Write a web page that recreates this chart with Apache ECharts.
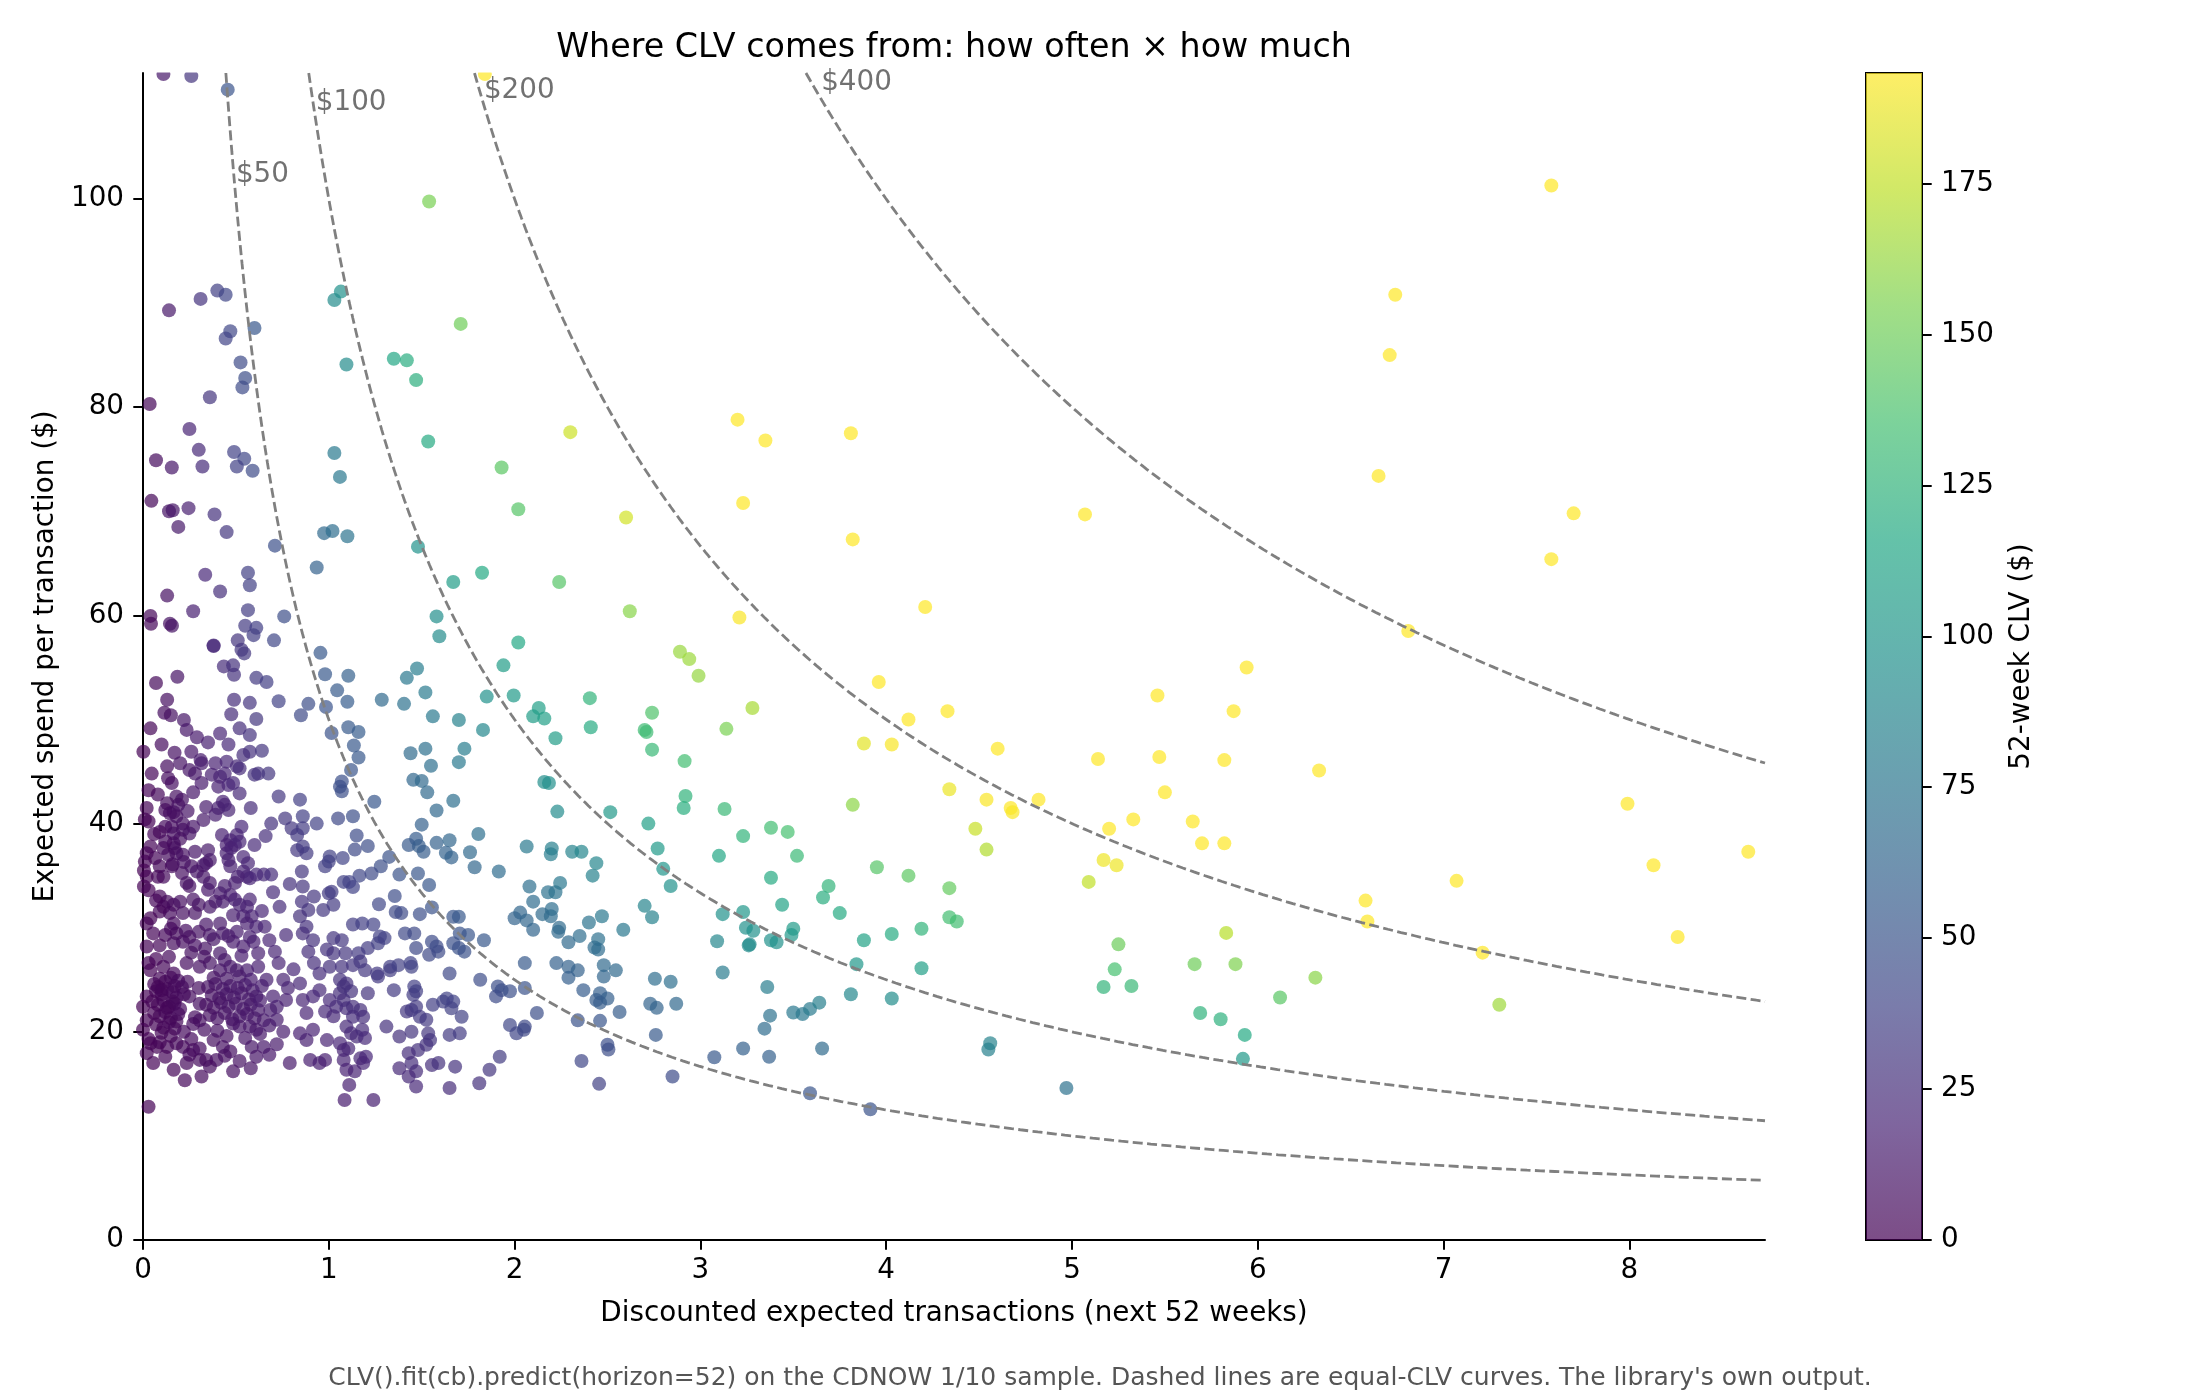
<!DOCTYPE html>
<html><head><meta charset="utf-8">
<script src="https://cdn.jsdelivr.net/npm/echarts@6/dist/echarts.min.js"></script>
<style>html,body{margin:0;padding:0;background:#fff}#c{width:2200px;height:1400px}</style>
</head><body><div id="c"></div>
<script>
// [transactions, spend] pairs, grouped by region
const ptsHighSpend = [[0.11,112.0],[0.26,111.8],[0.456,110.5],[0.40,91.2],[0.445,90.8],[0.31,90.4],[0.14,89.3],[0.60,87.6],[0.47,87.3],[0.445,86.6],[0.525,84.3],[0.55,82.8],[0.535,81.9],[0.36,80.95],[0.036,80.3],[0.25,77.9],[0.30,75.9],[0.07,74.9],[0.155,74.2],[0.32,74.3],[0.49,75.7],[0.545,75.05],[0.505,74.3],[0.59,73.9],[0.045,71.0],[0.14,70.0],[0.16,70.1],[0.245,70.3],[0.19,68.5],[0.385,69.7],[0.45,68.0],[0.71,66.7],[0.335,63.9],[0.565,64.1],[0.575,62.9],[0.415,62.3],[0.13,61.9],[0.27,60.4],[0.565,60.5],[0.76,59.9],[0.04,59.95],[0.043,59.2],[0.145,59.2],[0.156,59.0],[0.55,59.0],[0.61,58.8],[0.595,58.1],[0.705,57.6],[0.51,57.6],[0.38,57.05],[0.38,57.1],[0.53,56.7],[0.545,56.35],[0.435,55.1],[0.485,55.2],[0.49,54.3],[0.61,54.0],[0.665,53.6],[0.07,53.5],[0.185,54.1],[0.13,51.9],[0.49,51.9],[0.575,51.6],[0.73,51.75],[0.89,51.5],[0.85,50.4],[0.115,50.65],[0.15,50.4],[0.22,49.95],[0.475,50.5],[0.61,50.05],[0.935,64.6],[0.955,56.4],[0.985,51.2],[0.98,54.35],
[1.54,99.75],[1.065,91.1],[1.03,90.3],[1.095,84.1],[1.35,84.65],[1.42,84.5],[1.47,82.6],[1.03,75.6],[1.06,73.3],[1.535,76.7],[0.975,67.9],[1.02,68.1],[1.10,67.6],[1.48,66.6],[1.105,54.2],[1.045,52.8],[1.10,51.7],[1.285,51.9],[1.405,51.5],[1.42,54.0],[1.475,54.9],[1.52,52.6],[1.58,59.9],[1.595,58.0],[1.56,50.3],[1.71,88.0]];

const ptsUpperCenter = [[1.84,112.0],[1.93,74.2],[2.02,70.2],[1.825,64.1],[1.67,63.2],[2.24,63.2],[2.02,57.4],[1.94,55.2],[1.85,52.2],[1.995,52.3],[2.405,52.05],[2.74,50.65],[2.13,51.1],[2.10,50.3],[2.16,50.1],[1.70,49.95]];

const ptsMidSpendLeft = [[0.04,49.15],[0.235,49.0],[0.415,48.65],[0.35,47.8],[0.52,49.15],[0.575,48.5],[1.015,48.7],[0.002,46.9],[0.17,46.8],[0.13,45.5],[0.20,45.8],[0.26,46.9],[0.31,46.1],[0.315,45.8],[0.39,45.8],[0.45,45.95],[0.505,45.5],[0.52,45.3],[0.575,46.9],[0.54,46.6],[0.047,44.8],[0.155,43.9],[0.135,44.35],[0.25,45.15],[0.28,44.8],[0.315,43.9],[0.37,44.7],[0.415,44.5],[0.44,44.8],[0.405,43.55],[0.46,43.7],[0.485,43.9],[0.60,44.7],[0.62,44.8],[0.675,44.8],[0.18,42.6],[0.21,42.3],[0.13,41.95],[0.12,41.3],[0.145,41.0],[0.165,41.1],[0.18,40.7],[0.43,42.1],[0.44,41.8],[0.405,41.5],[0.39,40.85],[0.46,41.3],[0.02,41.5],[0.01,40.4],[0.03,40.2],[0.845,42.3],[0.765,40.5],[0.69,40.0],[0.86,40.7],[0.935,40.0],[0.80,39.55],[0.86,39.55],[0.83,38.9],[1.05,40.5],[0.325,40.35],[0.27,39.7],[0.215,40.0],[0.155,39.7],[0.12,39.7],[0.09,39.2],[0.53,39.7],[0.505,38.9],[0.425,38.9],[0.47,38.4],[0.45,37.95],[0.495,37.95],[0.52,38.25],[0.60,37.95],[0.165,39.05],[0.215,39.4],[0.25,39.05],[0.20,38.55],[0.165,38.1],[0.04,37.8],[0.02,37.15],[0.065,36.7],[0.11,37.65],[0.17,37.65],[0.135,37.0],[0.18,37.15],[0.215,37.0],[0.28,37.3],[0.35,37.45],[0.36,36.5],[0.34,36.2],[0.325,36.0],[0.155,35.9],[0.16,36.1],[0.09,35.9],[0.11,34.9],[0.08,34.9],[0.21,35.25],[0.26,35.9],[0.235,34.3],[0.25,34.0],[0.45,37.15],[0.46,36.5],[0.47,35.9],[0.475,37.65],[0.54,36.8],[0.565,36.2],[0.54,35.4],[0.56,34.9],[0.575,34.75],[0.51,34.9],[0.61,35.1],[0.65,35.1],[0.69,35.1],[0.325,34.9],[0.36,34.3],[0.35,33.65],[0.415,33.3],[0.47,33.15],[0.495,34.3],[0.44,34.0],[0.01,36.35],[0.005,35.5],[0.02,34.9],[0.005,33.95],[0.03,33.6],[0.09,33.0],[0.13,32.5],[0.11,32.0],[0.165,32.2],[0.20,32.5],[0.215,31.4],[0.145,31.4],[0.09,31.55],[0.27,32.7],[0.30,32.2],[0.28,31.4],[0.36,32.0],[0.39,32.5],[0.43,32.5],[0.495,32.7],[0.52,32.2],[0.56,32.0],[0.575,32.7],[0.585,31.1],[0.54,31.1],[0.485,31.2],[0.735,32.0],[0.855,32.5],[0.89,31.7],[0.845,31.1],[0.97,31.7],[1.0,33.3],[1.015,33.45],[0.98,35.9],[1.0,36.35],[0.83,37.45],[0.88,37.15],[0.86,37.8],[0.855,35.4],[0.86,33.95],[1.005,36.85],[1.025,32.2]];

const ptsLowSpendLeft = [[0.02,30.4],[0.165,30.4],[0.34,30.3],[0.415,30.4],[0.56,30.4],[0.61,30.1],[0.655,30.1],[0.055,29.45],[0.12,29.3],[0.18,29.45],[0.25,29.1],[0.36,29.3],[0.43,29.45],[0.505,29.6],[0.575,29.1],[0.77,29.3],[0.88,30.1],[0.915,28.8],[1.025,29.0],[0.99,27.9],[0.02,28.2],[0.09,28.3],[0.165,28.5],[0.215,28.65],[0.28,28.3],[0.335,28.0],[0.415,27.55],[0.485,28.65],[0.54,28.2],[0.595,28.65],[0.62,27.55],[0.71,27.7],[0.73,26.6],[0.86,29.45],[0.04,25.9],[0.11,26.25],[0.165,25.6],[0.235,26.6],[0.305,26.25],[0.36,26.6],[0.415,25.9],[0.47,26.25],[0.505,25.9],[0.56,25.9],[0.62,26.25],[0.665,25.0],[0.755,25.0],[0.845,24.65],[0.89,27.7],[0.95,25.6],[1.005,26.25],[1.025,27.55],[0.02,23.4],[0.25,23.4],[0.305,22.7],[0.70,23.4],[0.77,23.05],[0.72,22.4],[0.86,23.05],[0.915,23.4],[0.88,21.8],[0.95,24.0],[1.005,23.05],[1.04,22.4],[0.98,21.95],[1.025,21.5],[0.72,21.15],[0.755,20.0],[0.845,19.85],[0.88,19.2],[0.915,20.2],[0.99,19.2],[0.98,17.3],[0.90,17.3],[0.95,17.0],[0.04,18.9],[0.02,17.95],[0.075,18.55],[0.13,18.55],[0.18,18.9],[0.215,18.55],[0.27,18.25],[0.305,18.4],[0.38,19.2],[0.43,18.55],[0.47,18.1],[0.395,17.3],[0.34,17.3],[0.36,16.65],[0.485,20.8],[0.52,20.5],[0.575,20.5],[0.61,20.2],[0.65,18.55],[0.585,18.55],[0.61,17.6],[0.055,17.0],[0.165,16.35],[0.235,17.0],[0.305,17.3],[0.225,15.35],[0.315,15.7],[0.485,16.2],[0.79,17.0],[0.03,12.8],[0.0,22.4],[0.02,21.1],[0.0,20.2],[0.28,21.4],[0.305,21.1],[0.27,20.75],[0.65,21.1],[0.685,22.1]];

const ptsCoreCluster = [[0.06,24.6],[0.09,25.1],[0.12,24.8],[0.15,25.2],[0.19,24.9],[0.21,24.3],[0.07,23.9],[0.10,23.6],[0.13,24.1],[0.16,23.8],[0.18,23.3],[0.22,23.6],[0.05,22.9],[0.08,22.6],[0.11,23.0],[0.14,22.4],[0.17,22.7],[0.20,22.2],[0.06,21.8],[0.09,21.5],[0.12,21.9],[0.15,21.3],[0.19,21.7],[0.07,20.7],[0.11,20.4],[0.14,20.9],[0.17,20.3],[0.10,19.9],[0.13,22.3],[0.16,22.9],[0.08,24.3],[0.18,21.0],
[0.35,24.3],[0.39,24.6],[0.43,24.1],[0.47,24.4],[0.51,24.2],[0.55,24.5],[0.59,24.0],[0.37,23.5],[0.41,23.2],[0.45,23.6],[0.49,23.3],[0.53,23.7],[0.57,23.1],[0.61,23.4],[0.34,22.6],[0.38,22.3],[0.42,22.8],[0.46,22.4],[0.50,22.7],[0.54,22.2],[0.58,22.6],[0.62,22.1],[0.36,21.6],[0.40,21.3],[0.44,21.8],[0.48,21.2],[0.52,21.5],[0.56,21.7],[0.60,21.3],[0.63,23.0]];

const ptsDenseExtra = [[0.03,43.2],[0.08,42.8],[0.06,39.0],[0.12,38.3],[0.19,41.8],[0.24,41.2],[0.22,36.3],[0.29,35.4],[0.07,32.6],[0.04,30.9],[0.15,29.9],[0.23,29.7],[0.30,29.6],[0.38,28.9],[0.46,29.2],[0.53,27.3],[0.44,26.9],[0.33,27.2],[0.26,27.6],[0.14,27.2],[0.07,27.0],[0.03,26.6],[0.10,24.0],[0.17,24.4],[0.24,24.8],[0.30,24.2],[0.38,25.2],[0.45,25.1],[0.52,25.3],[0.58,25.0],[0.64,24.4],[0.03,19.3],[0.09,19.0],[0.15,19.6],[0.22,20.0],[0.26,19.3],[0.33,20.2],[0.40,20.1],[0.45,19.6],[0.55,19.4],[0.63,19.8],[0.68,20.6],[0.12,17.6],[0.25,17.8],[0.44,17.7],[0.52,17.2],[0.58,16.5],[0.68,17.8],[0.72,18.8],[0.78,24.2],[0.81,26.0],[0.92,26.6],[0.68,28.8],[0.64,31.6],[0.70,33.4],[0.79,34.2],[0.92,33.0],[0.66,38.8],[0.73,42.6],[0.58,41.5],[0.52,42.9],[0.34,41.6],[0.27,43.0],[0.10,47.6],[0.29,48.3],[0.46,47.6],[0.64,47.0]];

const ptsMidSpendMid = [[1.105,49.25],[1.16,48.8],[1.135,47.5],[1.16,46.35],[1.12,45.15],[1.07,44.05],[1.06,43.55],[1.07,43.1],[1.245,42.1],[1.13,40.7],[1.15,38.85],[1.14,37.5],[1.21,37.85],[1.075,36.7],[1.325,36.8],[1.28,35.9],[1.23,35.2],[1.165,35.0],[1.11,34.4],[1.13,33.9],[1.08,34.4],[1.38,35.1],[1.48,35.2],[1.54,34.1],[1.355,33.05],[1.27,32.25],[1.36,31.5],[1.39,31.4],[1.49,31.3],[1.555,31.95],[1.44,46.75],[1.52,47.2],[1.55,45.55],[1.83,49.0],[1.73,47.2],[1.70,45.9],[1.455,44.2],[1.50,44.1],[1.53,43.0],[1.67,42.2],[1.58,41.25],[1.50,39.9],[1.805,39.0],[1.47,38.55],[1.43,37.95],[1.485,37.85],[1.51,37.3],[1.58,38.15],[1.65,38.4],[1.63,37.2],[1.66,36.75],[1.76,37.25],[1.785,35.8],[1.915,35.4],[2.065,37.8],[2.08,33.95],[2.10,32.5],[2.03,31.45],[2.00,30.9],[2.065,30.7],[1.67,31.05],[1.70,31.05]];

const ptsLowSpendMid = [[1.13,30.3],[1.18,30.4],[1.24,30.3],[1.07,28.8],[1.09,27.55],[1.07,26.25],[1.13,26.4],[1.16,27.55],[1.17,26.75],[1.195,25.9],[1.21,28.05],[1.275,29.15],[1.30,29.0],[1.265,28.5],[1.26,25.6],[1.265,25.3],[1.33,26.25],[1.33,25.9],[1.375,26.4],[1.44,26.6],[1.445,26.25],[1.41,29.45],[1.46,29.45],[1.47,28.05],[1.555,28.65],[1.58,28.2],[1.54,27.4],[1.59,27.7],[1.67,28.5],[1.70,28.05],[1.73,27.7],[1.705,29.45],[1.75,29.3],[1.835,28.8],[1.65,25.6],[1.815,25.0],[1.91,24.35],[1.93,24.0],[1.975,23.9],[1.90,23.4],[2.055,26.6],[2.055,24.2],[2.12,21.8],[1.975,20.65],[2.01,19.85],[2.055,20.5],[2.05,20.2],[1.92,17.6],[1.865,16.35],[1.81,15.05],[1.65,14.6],[1.68,16.65],[1.35,24.0],[1.21,23.7],[1.46,24.35],[1.47,23.9],[1.455,23.55],[1.56,22.6],[1.615,22.9],[1.635,23.2],[1.67,22.9],[1.66,22.25],[1.715,21.45],[1.42,21.95],[1.445,22.1],[1.47,22.4],[1.49,21.45],[1.525,21.15],[1.535,19.85],[1.545,19.2],[1.525,18.75],[1.31,20.5],[1.38,19.55],[1.445,20.0],[1.48,18.25],[1.43,17.95],[1.445,17.0],[1.47,16.2],[1.38,16.5],[1.43,15.7],[1.47,14.75],[1.555,16.8],[1.59,17.0],[1.65,19.7],[1.705,19.85],[1.24,13.45],[1.11,14.9],[1.085,13.45],[1.17,17.45],[1.20,17.6],[1.185,17.0],[1.14,16.2],[1.08,17.3],[1.095,16.35],[1.06,18.9],[1.08,18.25],[1.105,18.4],[1.095,20.5],[1.12,19.85],[1.15,19.55],[1.18,20.2],[1.195,19.4],[1.06,23.7],[1.08,23.05],[1.095,22.25],[1.13,22.4],[1.17,22.1],[1.185,21.45],[1.13,21.45],[1.06,25.0],[1.095,24.65],[1.08,24.35],[1.12,23.9],[2.10,29.8]];

const ptsCenter = [[2.41,49.25],[2.70,49.0],[2.71,48.8],[2.22,48.2],[2.74,47.1],[2.915,46.0],[2.92,42.65],[2.91,41.5],[2.23,41.15],[2.515,41.1],[2.72,40.0],[2.77,37.6],[2.80,35.65],[2.84,34.0],[2.20,37.6],[2.195,37.05],[2.31,37.3],[2.36,37.3],[2.44,36.2],[2.42,35.0],[2.245,34.3],[2.18,33.4],[2.22,33.4],[2.70,32.1],[2.74,31.0],[3.245,30.0],[3.285,29.7],[3.50,29.9],[3.49,29.3],[3.38,28.8],[3.41,28.6],[3.26,28.3],[3.265,28.4],[3.375,21.55],[3.50,21.85],[3.55,21.7],[3.59,22.2],[3.64,22.8],[3.345,20.3],[3.655,18.4],[3.23,18.4],[3.37,17.6],[3.075,17.55],[3.59,14.1],[3.915,12.55],[2.85,15.7],[2.76,19.7],[2.455,15.0],[2.36,17.2],[2.50,18.75],[2.505,18.3],[2.34,21.1],[2.46,21.05],[2.565,21.9],[2.46,23.7],[2.50,23.2],[2.46,22.8],[2.44,23.05],[2.37,24.0],[2.73,22.7],[2.765,22.3],[2.87,22.7],[2.755,25.1],[2.84,24.8],[2.48,26.4],[2.545,25.9],[2.48,25.3],[2.29,26.25],[2.34,25.9],[2.29,25.2],[2.225,26.6],[2.35,29.2],[2.29,28.6],[2.45,28.9],[2.43,28.1],[2.45,27.9],[2.585,29.8],[2.40,30.5],[2.47,31.1],[2.24,30.0],[2.235,29.6],[2.20,31.8],[2.195,31.1],[2.15,31.3],[2.16,44.0],[2.185,43.9]];

const ptsRight = [[7.58,101.3],[6.74,90.8],[6.71,85.0],[6.65,73.4],[7.70,69.8],[7.58,65.4],[6.81,58.5],[5.07,69.7],[5.94,55.0],[5.46,52.3],[5.87,50.8],[5.47,46.4],[5.82,46.1],[5.14,46.2],[5.50,43.0],[6.33,45.1],[5.33,40.4],[5.20,39.5],[5.65,40.2],[5.70,38.1],[5.82,38.1],[5.17,36.5],[5.24,36.0],[5.09,34.4],[4.82,42.3],[4.67,41.5],[4.68,41.1],[4.54,42.3],[4.60,47.2],[4.48,39.5],[4.54,37.5],[4.34,43.3],[4.33,50.8],[4.12,50.0],[4.21,60.8],[3.96,53.6],[3.88,47.7],[4.03,47.6],[3.82,41.8],[3.81,77.5],[3.82,67.3],[3.35,76.8],[3.20,78.8],[3.23,70.8],[3.21,59.8],[2.30,77.6],[2.60,69.4],[2.62,60.4],[2.89,56.5],[2.94,55.8],[2.99,54.2],[3.28,51.1],[3.14,49.1],[4.34,33.8],[4.34,31.0],[4.38,30.6],[4.12,35.0],[3.95,35.8],[4.03,29.4],[4.19,29.9],[3.88,28.8],[4.19,26.1],[4.03,23.2],[3.84,26.5],[3.81,23.6],[3.75,31.4],[3.69,34.0],[3.66,32.9],[3.52,36.9],[3.47,39.2],[3.38,39.6],[3.38,34.8],[3.44,32.2],[3.23,31.5],[3.12,31.3],[3.09,28.7],[3.12,25.7],[3.10,36.9],[3.13,41.4],[3.23,38.8],[3.36,24.3],[4.56,18.9],[4.55,18.3],[4.97,14.6],[5.17,24.3],[5.23,26.0],[5.25,28.4],[5.32,24.4],[5.66,26.5],[5.69,21.8],[5.80,21.2],[5.83,29.5],[5.88,26.5],[5.93,19.7],[5.92,17.4],[6.12,23.3],[6.31,25.2],[6.58,32.6],[6.59,30.6],[7.07,34.5],[7.21,27.6],[7.30,22.6],[7.99,41.9],[8.13,36.0],[8.26,29.1],[8.64,37.3]];

const curveLevels = [50, 100, 200, 400];
const curveLabels = ['$50', '$100', '$200', '$400'];
const curveLabelPos = [[0.50, 102.7], [0.93, 109.6], [1.835, 110.8], [3.65, 111.5]];
const X_MAX = 8.73, Y_MAX = 112.1, CLV_MAX = 193.3;
const viridis = ['#440154','#482475','#414487','#355f8d','#2a788e','#21918c','#22a884','#44bf70','#7ad151','#bddf26','#fde725'];
const FONT = 'DejaVu Sans';

const allPts = [].concat(ptsHighSpend, ptsUpperCenter, ptsMidSpendLeft, ptsLowSpendLeft, ptsCoreCluster, ptsDenseExtra, ptsMidSpendMid, ptsLowSpendMid, ptsCenter, ptsRight);
const scatterData = allPts.map(p => [p[0], p[1], Math.min(p[0] * p[1], CLV_MAX)]);

function curvePoints(C) {
  const x0 = C / Y_MAX, n = 300, pts = [];
  for (let i = 0; i <= n; i++) { const x = x0 * Math.pow(X_MAX / x0, i / n); pts.push([x, C / x]); }
  return pts;
}

const chart = echarts.init(document.getElementById('c'), null, {renderer: 'canvas'});
const tickStyle = {color: '#000', fontSize: 27.8, fontFamily: FONT};
const series = [{
  type: 'scatter', xAxisIndex: 0, yAxisIndex: 0, data: scatterData, symbolSize: 14,
  itemStyle: {opacity: 0.7}, z: 2, silent: true, animation: false
}];
curveLevels.forEach((C, i) => {
  series.push({
    type: 'line', xAxisIndex: 0, yAxisIndex: 0, data: curvePoints(C), showSymbol: false, symbol: 'none',
    lineStyle: {color: '#808080', width: 2.8, type: [10, 4.4]}, z: 3, silent: true, animation: false, clip: true
  });
});
series.push({
  type: 'scatter', xAxisIndex: 0, yAxisIndex: 0, symbolSize: 0, z: 4, silent: true, animation: false,
  data: curveLabelPos.map((p, i) => [p[0], p[1], curveLabels[i]]),
  label: {show: true, position: [0, 0], offset: [0, 4], align: 'left', verticalAlign: 'middle', formatter: p => p.value[2],
    color: '#4d4d4d', fontSize: 27.8, fontFamily: FONT}
});
series.push({
  type: 'bar', xAxisIndex: 1, yAxisIndex: 1, data: [CLV_MAX], barWidth: '100%', silent: true, animation: false,
  itemStyle: {opacity: 0.7, color: new echarts.graphic.LinearGradient(0, 1, 0, 0,
    viridis.map((c, i) => ({offset: i / (viridis.length - 1), color: c})))}
});

chart.setOption({
  backgroundColor: '#fff',
  animation: false,
  grid: [
    {left: 143, top: 73, width: 1622, height: 1167, containLabel: false},
    {left: 1866, top: 73, width: 56, height: 1167, show: true, borderColor: '#000', borderWidth: 2, backgroundColor: 'transparent'}
  ],
  xAxis: [
    {gridIndex: 0, type: 'value', min: 0, max: X_MAX, interval: 1,
     axisLine: {show: true, onZero: false, lineStyle: {color: '#000', width: 2}},
     axisTick: {show: true, length: 9.7, lineStyle: {color: '#000', width: 2}},
     axisLabel: Object.assign({margin: 17, showMaxLabel: false}, tickStyle),
     splitLine: {show: false},
     name: 'Discounted expected transactions (next 52 weeks)', nameLocation: 'middle', nameGap: 60,
     nameTextStyle: {color: '#000', fontSize: 27.8, fontFamily: FONT}},
    {gridIndex: 1, type: 'category', data: [''], show: false}
  ],
  yAxis: [
    {gridIndex: 0, type: 'value', min: 0, max: Y_MAX, interval: 20,
     axisLine: {show: true, onZero: false, lineStyle: {color: '#000', width: 2}},
     axisTick: {show: true, length: 9.7, lineStyle: {color: '#000', width: 2}},
     axisLabel: Object.assign({margin: 19, showMaxLabel: false}, tickStyle),
     splitLine: {show: false},
     name: 'Expected spend per transaction ($)', nameLocation: 'middle', nameGap: 83, nameRotate: 90,
     nameTextStyle: {color: '#000', fontSize: 27.8, fontFamily: FONT}},
    {gridIndex: 1, type: 'value', min: 0, max: CLV_MAX, interval: 25, position: 'right',
     axisLine: {show: false},
     axisTick: {show: true, length: 9.7, lineStyle: {color: '#000', width: 2}},
     axisLabel: Object.assign({margin: 19, showMaxLabel: false}, tickStyle),
     splitLine: {show: false},
     name: '52-week CLV ($)', nameLocation: 'middle', nameGap: 86, nameRotate: 90,
     nameTextStyle: {color: '#000', fontSize: 27.8, fontFamily: FONT}}
  ],
  visualMap: {type: 'continuous', show: false, seriesIndex: 0, dimension: 2, min: 0, max: CLV_MAX,
    inRange: {color: viridis}},
  graphic: [
    {type: 'rect', z: 100, shape: {x: 146, y: 40, width: 370, height: 32.5}, style: {fill: '#fff'}},
    {type: 'text', z: 101, x: 954, y: 48, style: {text: 'Where CLV comes from: how often × how much',
      fontSize: 33.3, fontFamily: FONT, fill: '#000', align: 'center', verticalAlign: 'middle'}},
    {type: 'text', z: 101, x: 1100, y: 1378, style: {text: "CLV().fit(cb).predict(horizon=52) on the CDNOW 1/10 sample. Dashed lines are equal-CLV curves. The library's own output.",
      fontSize: 25, fontFamily: FONT, fill: '#555555', align: 'center', verticalAlign: 'middle'}}
  ],
  series: series
});
</script></body></html>
